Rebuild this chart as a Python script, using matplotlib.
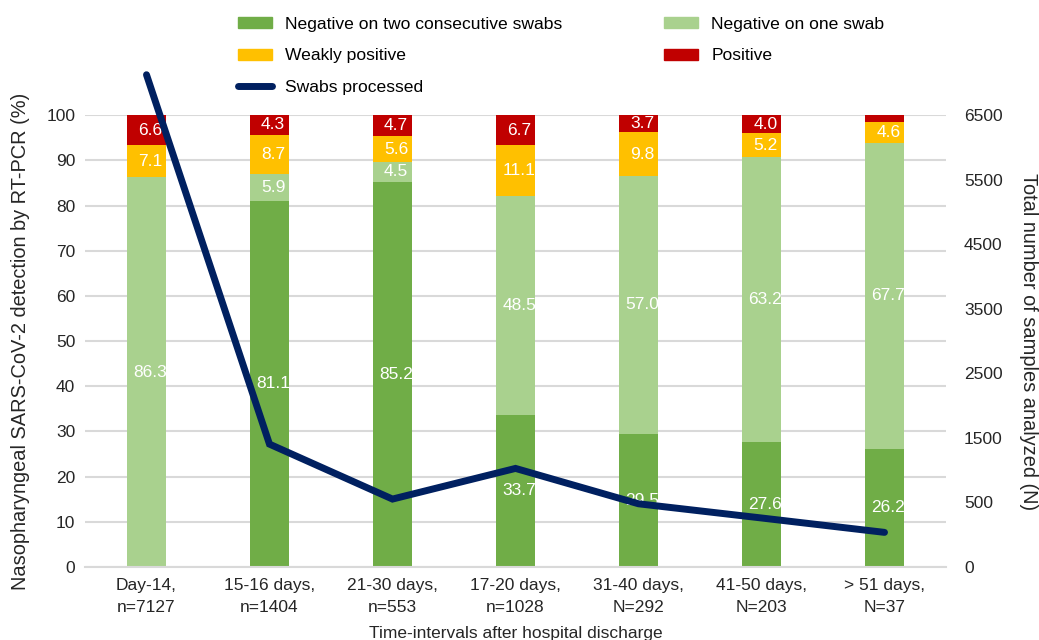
import matplotlib
matplotlib.use('Agg')
import matplotlib.pyplot as plt
from matplotlib.patches import Patch
from matplotlib.lines import Line2D
import numpy as np

plt.rcParams['font.family'] = ['Liberation Sans', 'DejaVu Sans']

categories = ['Day-14,\nn=7127', '15-16 days,\nn=1404', '21-30 days,\nn=553',
              '17-20 days,\nn=1028', '31-40 days,\nN=292', '41-50 days,\nN=203',
              '> 51 days,\nN=37']
neg_two = [0, 81.1, 85.2, 33.7, 29.5, 27.6, 26.2]
neg_one = [86.3, 5.9, 4.5, 48.5, 57.0, 63.2, 67.7]
weak_pos = [7.1, 8.7, 5.6, 11.1, 9.8, 5.2, 4.6]
positive = [6.6, 4.3, 4.7, 6.7, 3.7, 4.0, 1.5]
swabs = [7127, 1404, 553, 1028, 480, 260, 37]

right_ticks = [-500, 500, 1500, 2500, 3500, 4500, 5500, 6500]
right_labels = ['0', '500', '1500', '2500', '3500', '4500', '5500', '6500']

col_two = '#70AD47'
col_one = '#A9D18E'
col_weak = '#FFC000'
col_pos = '#C00000'
col_line = '#002060'

fig = plt.figure(figsize=(10.39, 6.4), dpi=100)
ax = fig.add_axes([0.0818, 0.114, 0.8287, 0.706])

x = np.arange(len(categories))
w = 0.31
series = [(neg_two, col_two), (neg_one, col_one), (weak_pos, col_weak), (positive, col_pos)]
bottom = np.zeros(len(categories))
for vals, col in series:
    bars = ax.bar(x, vals, w, bottom=bottom, color=col, zorder=2)
    for rect, v, b in zip(bars, vals, bottom):
        if v < 2:
            continue
        t = ax.text(rect.get_x() + rect.get_width() / 2 + 0.03, b + v / 2, f'{v:.1f}',
                    ha='center', va='center', color='white', fontsize=12.5, zorder=3,
                    clip_on=True)
        t.set_clip_path(rect)
    bottom += np.array(vals)

ax.set_xlim(-0.5, len(categories) - 0.5)
ax.set_ylim(0, 100)
ax.set_yticks(range(0, 101, 10))
ax.yaxis.grid(True, color='#d9d9d9', linewidth=1.5, zorder=0)
ax.set_axisbelow(True)
for s in ['left', 'right', 'top']:
    ax.spines[s].set_visible(False)
ax.spines['bottom'].set_color('#d9d9d9')
ax.spines['bottom'].set_linewidth(1.5)
ax.tick_params(axis='both', length=0, labelsize=12.5, colors='#262626')
ax.tick_params(axis='y', pad=7)
ax.set_xticks(x)
ax.set_xticklabels(categories, linespacing=1.55)
ax.tick_params(axis='x', pad=8)
ax.set_xlabel('Time-intervals after hospital discharge', fontsize=12.5, labelpad=8, color='#262626')
ax.set_ylabel('Nasopharyngeal SARS-CoV-2 detection by RT-PCR (%)', fontsize=14.4,
              labelpad=11.5, color='#262626')

ax2 = ax.twinx()
ax2.plot(x, swabs, color=col_line, linewidth=5, solid_capstyle='round',
         solid_joinstyle='miter', clip_on=False, zorder=5)
ax2.set_ylim(-500, 6500)
ax2.set_yticks(right_ticks)
ax2.set_yticklabels(right_labels)
ax2.tick_params(axis='y', length=0, labelsize=12.5, colors='#262626', pad=13)
for s in ax2.spines.values():
    s.set_visible(False)
ax2.set_ylabel('Total number of samples analyzed (N)', fontsize=14.4, rotation=270,
               labelpad=25, color='#262626')

handles = [Patch(color=col_two), Patch(color=col_weak),
           Line2D([0], [0], color=col_line, linewidth=5, solid_capstyle='round'),
           Patch(color=col_one), Patch(color=col_pos)]
labels = ['Negative on two consecutive swabs', 'Weakly positive', 'Swabs processed',
          'Negative on one swab', 'Positive']
fig.legend(handles, labels, ncol=2, loc='upper left', bbox_to_anchor=(0.229, 0.974),
           frameon=False, fontsize=12.6, handlelength=1.95, handleheight=0.6,
           handletextpad=0.75, labelspacing=0.95, columnspacing=5.8, borderpad=0,
           borderaxespad=0)

fig.savefig('out.png', dpi=100)
